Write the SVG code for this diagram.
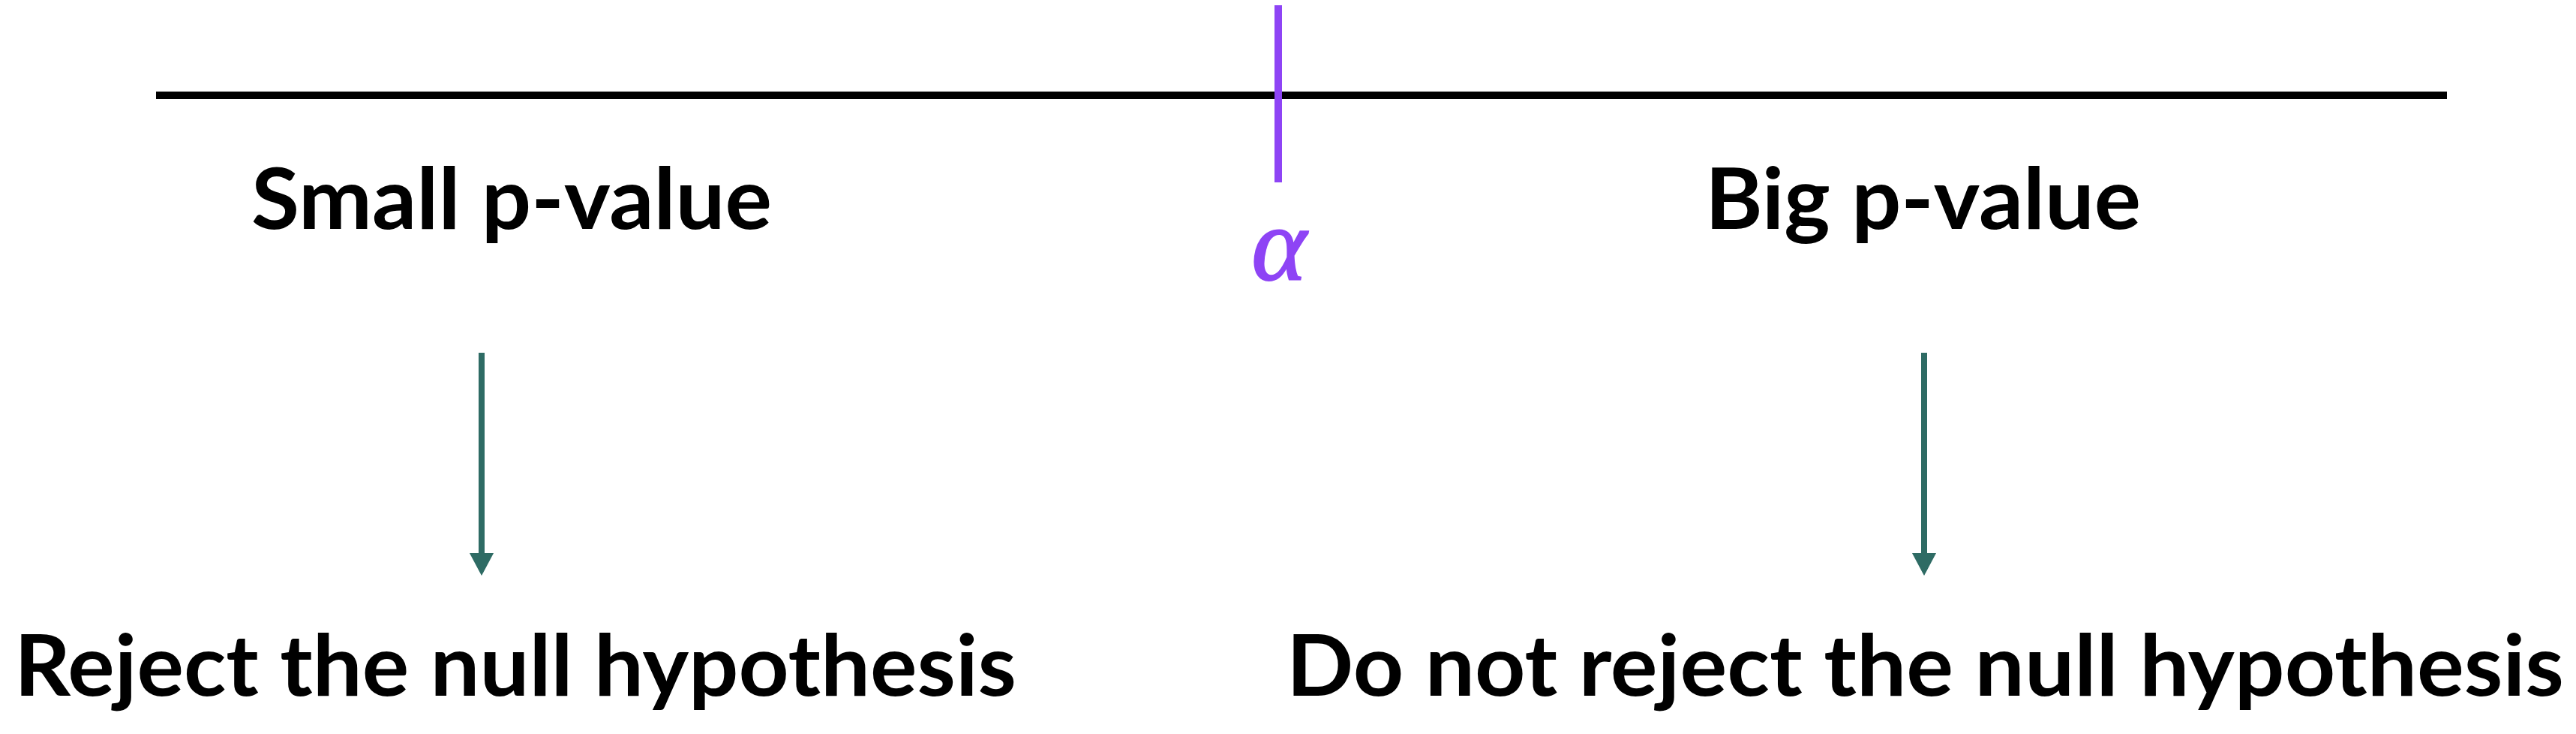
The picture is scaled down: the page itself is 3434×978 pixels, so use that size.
<svg xmlns="http://www.w3.org/2000/svg" width="3434" height="978" viewBox="0 0 3434 978">
<style>
.lbl{font-family:"Lato","Liberation Sans",sans-serif;font-weight:700;font-size:113px;fill:#000}
.alpha{font-family:"Liberation Serif","DejaVu Serif",serif;font-style:italic;font-size:140px;fill:#8E44F5;stroke:#8E44F5;stroke-width:2}
.conn{stroke:#2E6B64;stroke-width:8;fill:none}
</style>
<defs>
<marker id="ah" markerUnits="userSpaceOnUse" markerWidth="34" markerHeight="32" refX="0" refY="17" orient="auto" viewBox="0 0 32 34">
<path d="M0,0 L32,17 L0,34 Z" fill="#2E6B64"/>
</marker>
</defs>
<rect width="3434" height="978" fill="#fff"/>
<g id="axis">
<line x1="208" y1="127" x2="3262" y2="127" stroke="#000" stroke-width="10"/>
</g>
<g id="alpha-marker">
<line x1="1704" y1="7" x2="1704" y2="243" stroke="#8E44F5" stroke-width="10"/>
<text class="alpha" x="1705" y="373" text-anchor="middle">α</text>
</g>
<g id="small-p">
<text class="lbl" x="335" y="305" textLength="694" lengthAdjust="spacingAndGlyphs">Small p-value</text>
</g>
<g id="big-p">
<text class="lbl" x="2273" y="305" textLength="581" lengthAdjust="spacingAndGlyphs">Big p-value</text>
</g>
<g id="reject">
<text class="lbl" x="19" y="927" textLength="1336" lengthAdjust="spacingAndGlyphs">Reject the null hypothesis</text>
</g>
<g id="not-reject">
<text class="lbl" x="1715" y="927" textLength="1703" lengthAdjust="spacingAndGlyphs">Do not reject the null hypothesis</text>
</g>
<g id="connectors">
<line class="conn" x1="642" y1="470" x2="642" y2="737" marker-end="url(#ah)"/>
<line class="conn" x1="2565" y1="470" x2="2565" y2="737" marker-end="url(#ah)"/>
</g>
</svg>
